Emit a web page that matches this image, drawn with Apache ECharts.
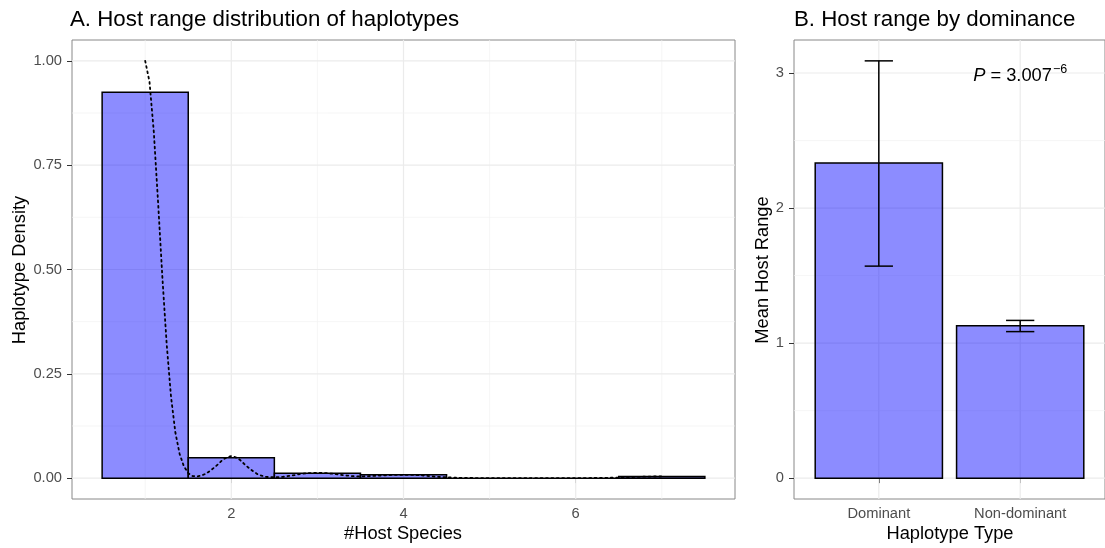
<!DOCTYPE html>
<html><head><meta charset="utf-8">
<script src="https://cdn.jsdelivr.net/npm/echarts@6/dist/echarts.min.js"></script>
<style>html,body{margin:0;padding:0;background:#fff}#c{width:1105px;height:548px}</style>
</head><body><div id="c"></div>
<script>
// ---------- Panel A data ----------
const binStarts = [0.5, 1.5, 2.5, 3.5, 4.5, 5.5, 6.5];
const binEnds   = [1.5, 2.5, 3.5, 4.5, 5.5, 6.5, 7.5];
const binDensity = [0.925, 0.049, 0.012, 0.008, 0, 0, 0.004];
const densityX = [1.00,1.05,1.10,1.15,1.20,1.25,1.30,1.35,1.40,1.45,1.50,1.55,1.60,1.65,1.70,1.75,1.80,1.85,1.90,1.95,2.00,2.05,2.10,2.15,2.20,2.25,2.30,2.35,2.40,2.50,2.60,2.70,2.80,2.90,3.00,3.10,3.20,3.30,3.40,3.50,3.60,3.70,3.80,3.90,4.00,4.10,4.20,4.30,4.40,4.50,4.70,5.00,5.50,6.00,6.30,6.50,6.70,6.85,7.00];
const densityY = [1.000,0.950,0.830,0.660,0.480,0.320,0.195,0.110,0.058,0.028,0.012,0.005,0.004,0.006,0.010,0.017,0.025,0.034,0.044,0.050,0.053,0.050,0.044,0.034,0.025,0.017,0.010,0.006,0.003,0.002,0.003,0.006,0.010,0.012,0.013,0.012,0.010,0.007,0.005,0.004,0.005,0.006,0.007,0.008,0.008,0.008,0.007,0.005,0.003,0.002,0.0005,0,0,0,0.0005,0.0015,0.003,0.0038,0.004];
const xTicksA = [2, 4, 6];
const xMinorA = [1, 3, 5, 7];
const yTicksA = [0, 0.25, 0.5, 0.75, 1];
const yTickLabelsA = ['0.00', '0.25', '0.50', '0.75', '1.00'];
const yMinorA = [0.125, 0.375, 0.625, 0.875];

// ---------- Panel B data ----------
const haploTypes = ['Dominant', 'Non-dominant'];
const meanHostRange = [2.333, 1.128];
const errLow = [1.57, 1.085];
const errHigh = [3.09, 1.168];
const yTicksB = [0, 1, 2, 3];
const yMinorB = [0.5, 1.5, 2.5];
const pAnnotation = { x: 2, y: 3, label: 'P', value: ' = 3.007', exponent: '\u22126' };

// ---------- ranges ----------
const A = { xmin: 0.15, xmax: 7.85, ymin: -0.05, ymax: 1.05 };
const B = { xmin: 0.4, xmax: 2.6, ymin: -0.1545, ymax: 3.2445 };

const FONT = "'Liberation Sans', Arial, Helvetica, sans-serif";
const FILL = 'rgba(0,0,255,0.45)';

function gridSeries(idx, vert, vertMinor, horiz, horizMinor, R) {
  const data = [];
  vert.forEach(v => data.push([v, 0, 1]));
  vertMinor.forEach(v => data.push([v, 0, 0]));
  horiz.forEach(v => data.push([v, 1, 1]));
  horizMinor.forEach(v => data.push([v, 1, 0]));
  return {
    type: 'custom', xAxisIndex: idx, yAxisIndex: idx, silent: true, z: 1,
    encode: { x: -1, y: -1 },
    data: data,
    renderItem: function (params, api) {
      const v = api.value(0), o = api.value(1), major = api.value(2);
      let p0, p1;
      if (o === 0) { p0 = api.coord([v, R.ymin]); p1 = api.coord([v, R.ymax]); }
      else { p0 = api.coord([R.xmin, v]); p1 = api.coord([R.xmax, v]); }
      return { type: 'line', shape: { x1: p0[0], y1: p0[1], x2: p1[0], y2: p1[1] },
        style: { stroke: major ? '#ebebeb' : '#f2f2f2', lineWidth: major ? 1.2 : 0.7 } };
    }
  };
}

const axisCommon = {
  axisLine: { show: false },
  splitLine: { show: false },
  axisTick: { show: true, length: 5, lineStyle: { color: '#333', width: 1 } },
};
const labelCommon = { color: '#4d4d4d', fontSize: 14.7, fontFamily: FONT };

const chart = echarts.init(document.getElementById('c'), null, { renderer: 'canvas' });
chart.setOption({
  animation: false,
  backgroundColor: '#fff',
  grid: [
    { left: 72, top: 40, width: 663, height: 459, show: true, borderColor: '#888', borderWidth: 1, backgroundColor: 'transparent' },
    { left: 794, top: 40, width: 314, height: 459, show: true, borderColor: '#888', borderWidth: 1, backgroundColor: 'transparent' }
  ],
  xAxis: [
    Object.assign({}, axisCommon, { type: 'value', gridIndex: 0, min: A.xmin, max: A.xmax,
      axisTick: Object.assign({}, axisCommon.axisTick, { customValues: xTicksA }),
      axisLabel: Object.assign({}, labelCommon, { customValues: xTicksA, margin: 7, formatter: v => String(v) }) }),
    Object.assign({}, axisCommon, { type: 'value', gridIndex: 1, min: B.xmin, max: B.xmax,
      axisTick: Object.assign({}, axisCommon.axisTick, { customValues: [1, 2] }),
      axisLabel: Object.assign({}, labelCommon, { customValues: [1, 2], margin: 7, formatter: v => haploTypes[Math.round(v) - 1] }) })
  ],
  yAxis: [
    Object.assign({}, axisCommon, { type: 'value', gridIndex: 0, min: A.ymin, max: A.ymax,
      axisTick: Object.assign({}, axisCommon.axisTick, { customValues: yTicksA }),
      axisLabel: Object.assign({}, labelCommon, { customValues: yTicksA, margin: 10,
        formatter: v => yTickLabelsA[yTicksA.findIndex(t => Math.abs(t - v) < 1e-9)] }) }),
    Object.assign({}, axisCommon, { type: 'value', gridIndex: 1, min: B.ymin, max: B.ymax,
      axisTick: Object.assign({}, axisCommon.axisTick, { customValues: yTicksB }),
      axisLabel: Object.assign({}, labelCommon, { customValues: yTicksB, margin: 10, formatter: v => String(Math.round(v)) }) })
  ],
  graphic: [
    { type: 'text', x: 70, y: 20, style: { text: 'A. Host range distribution of haplotypes', font: '22.3px ' + FONT, fill: '#000', align: 'left', verticalAlign: 'middle' } },
    { type: 'text', x: 794, y: 20, style: { text: 'B. Host range by dominance', font: '22.3px ' + FONT, fill: '#000', align: 'left', verticalAlign: 'middle' } },
    { type: 'text', x: 403, y: 534, style: { text: '#Host Species', font: '18.3px ' + FONT, fill: '#000', align: 'center', verticalAlign: 'middle' } },
    { type: 'text', x: 950, y: 534, style: { text: 'Haplotype Type', font: '18.3px ' + FONT, fill: '#000', align: 'center', verticalAlign: 'middle' } },
    { type: 'text', x: 20, y: 270, rotation: Math.PI / 2, style: { text: 'Haplotype Density', font: '18.3px ' + FONT, fill: '#000', align: 'center', verticalAlign: 'middle' } },
    { type: 'text', x: 763, y: 270, rotation: Math.PI / 2, style: { text: 'Mean Host Range', font: '18.3px ' + FONT, fill: '#000', align: 'center', verticalAlign: 'middle' } }
  ],
  series: [
    gridSeries(0, xTicksA, xMinorA, yTicksA, yMinorA, A),
    gridSeries(1, [1, 2], [], yTicksB, yMinorB, B),
    {
      name: 'histogram', type: 'custom', xAxisIndex: 0, yAxisIndex: 0, z: 10,
      encode: { x: [0, 1], y: 2 },
      data: binStarts.map((s, i) => [s, binEnds[i], binDensity[i]]),
      renderItem: function (params, api) {
        const p0 = api.coord([api.value(0), 0]);
        const p1 = api.coord([api.value(1), api.value(2)]);
        return { type: 'rect', shape: { x: p0[0], y: p1[1], width: p1[0] - p0[0], height: p0[1] - p1[1] },
          style: { fill: FILL, stroke: '#000', lineWidth: 1.5 } };
      }
    },
    {
      name: 'density', type: 'line', xAxisIndex: 0, yAxisIndex: 0, z: 12,
      data: densityX.map((x, i) => [x, densityY[i]]),
      showSymbol: false, symbol: 'none',
      lineStyle: { color: '#000', width: 1.8, type: [1.8, 3.6], cap: 'round' }
    },
    {
      name: 'bars', type: 'custom', xAxisIndex: 1, yAxisIndex: 1, z: 10,
      encode: { x: 0, y: 1 },
      data: meanHostRange.map((m, i) => [i + 1, m]),
      renderItem: function (params, api) {
        const x = api.value(0), m = api.value(1);
        const p0 = api.coord([x - 0.45, 0]);
        const p1 = api.coord([x + 0.45, m]);
        return { type: 'rect', shape: { x: p0[0], y: p1[1], width: p1[0] - p0[0], height: p0[1] - p1[1] },
          style: { fill: FILL, stroke: '#000', lineWidth: 1.5 } };
      }
    },
    {
      name: 'errors', type: 'custom', xAxisIndex: 1, yAxisIndex: 1, z: 12,
      encode: { x: 0, y: [1, 2] },
      data: errLow.map((l, i) => [i + 1, l, errHigh[i]]),
      renderItem: function (params, api) {
        const x = api.value(0);
        const lo = api.coord([x, api.value(1)]);
        const hi = api.coord([x, api.value(2)]);
        const hw = api.size([0.2, 0])[0] / 2;
        const st = { stroke: '#000', lineWidth: 1.5 };
        return { type: 'group', children: [
          { type: 'line', shape: { x1: lo[0], y1: lo[1], x2: hi[0], y2: hi[1] }, style: st },
          { type: 'line', shape: { x1: hi[0] - hw, y1: hi[1], x2: hi[0] + hw, y2: hi[1] }, style: st },
          { type: 'line', shape: { x1: lo[0] - hw, y1: lo[1], x2: lo[0] + hw, y2: lo[1] }, style: st }
        ] };
      }
    },
    {
      name: 'pvalue', type: 'custom', xAxisIndex: 1, yAxisIndex: 1, z: 14,
      encode: { x: 0, y: 1 },
      data: [[pAnnotation.x, pAnnotation.y]],
      renderItem: function (params, api) {
        const p = api.coord([api.value(0), api.value(1)]);
        return { type: 'text', x: p[0], y: p[1] + 3,
          style: {
            text: '{i|' + pAnnotation.label + '}{n|' + pAnnotation.value + '}{s|' + pAnnotation.exponent + '}',
            align: 'center', verticalAlign: 'middle', fill: '#000',
            font: '18.3px ' + FONT,
            rich: {
              i: { fontStyle: 'italic', fontSize: 18.3, fontFamily: FONT, color: '#000', verticalAlign: 'middle' },
              n: { fontSize: 18.3, fontFamily: FONT, color: '#000', verticalAlign: 'middle' },
              s: { fontSize: 12.5, fontFamily: FONT, color: '#000', padding: [0, 0, 13, 1], verticalAlign: 'middle' }
            }
          } };
      }
    }
  ]
});
</script>
</body></html>
